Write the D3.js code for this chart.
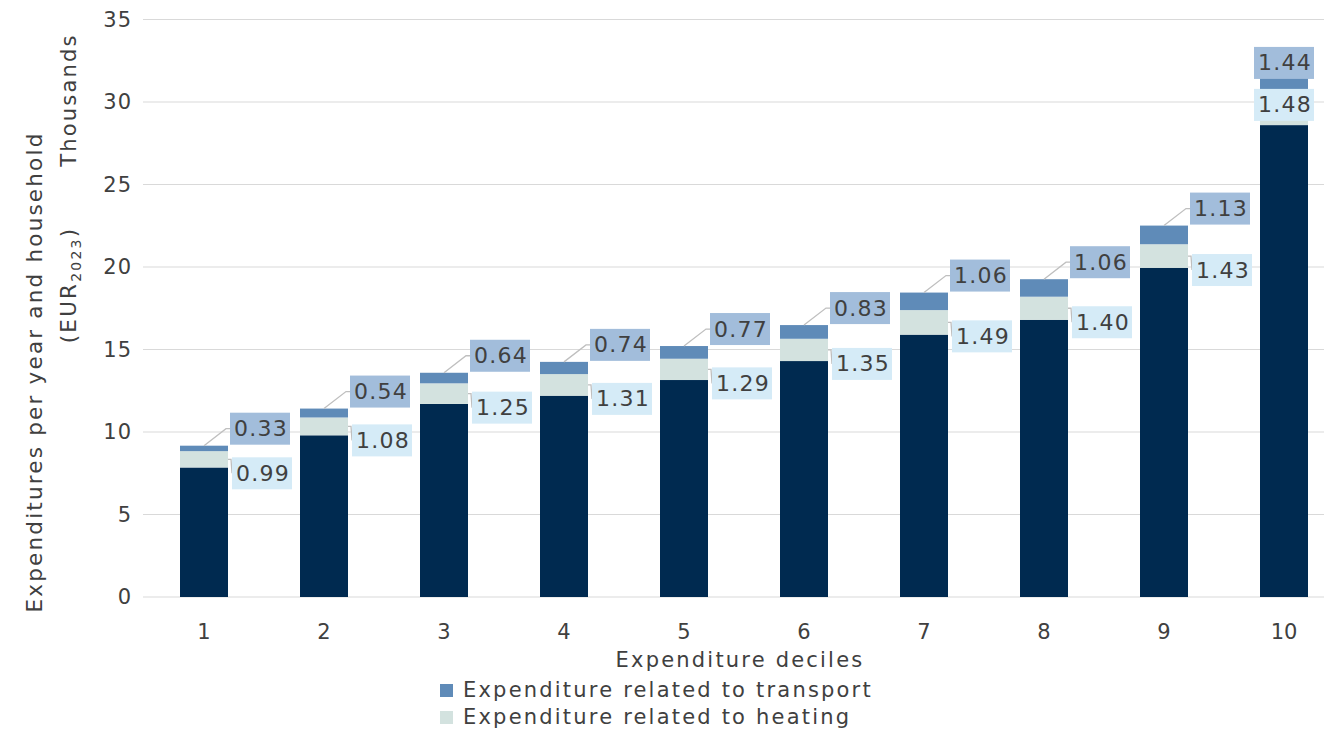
<!DOCTYPE html>
<html><head><meta charset="utf-8">
<script src="https://cdn.jsdelivr.net/npm/d3@7"></script>
<style>
body{margin:0;background:#fff;}
svg text{font-family:"DejaVu Sans",sans-serif;fill:#404040;}
</style></head>
<body><svg id="c" width="1324" height="732"></svg>
<script>
const deciles = ["1","2","3","4","5","6","7","8","9","10"];
const baseValues = [7.85, 9.8, 11.7, 12.2, 13.15, 14.3, 15.9, 16.8, 19.95, 28.6];
const heatingValues = [0.99, 1.08, 1.25, 1.31, 1.29, 1.35, 1.49, 1.40, 1.43, 1.48];
const transportValues = [0.33, 0.54, 0.64, 0.74, 0.77, 0.83, 1.06, 1.06, 1.13, 1.44];
const yTicks = [0, 5, 10, 15, 20, 25, 30, 35];
const legendItems = ["Expenditure related to transport", "Expenditure related to heating"];

const colors = {base:"#002a50", heating:"#d3e2df", transport:"#5f8bb8",
  transportBox:"#a2bddb", heatingBox:"#d5ebf7", grid:"#d9d9d9", leader:"#bfbfbf"};
const LS = "2.2px";

const svg = d3.select("#c");
const x = d3.scaleBand().domain(deciles).range([144, 1344]).paddingInner(0.6).paddingOuter(0.3);
const y = d3.scaleLinear().domain([0, 35]).range([597, 19.5]);

// grid
svg.append("g").selectAll("line").data(yTicks).join("line")
  .attr("x1", 143).attr("x2", 1324)
  .attr("y1", d => y(d)).attr("y2", d => y(d))
  .attr("stroke", colors.grid).attr("stroke-width", 1.2);

// y axis labels
const yAxis = svg.append("g").attr("transform", "translate(132,0)")
  .call(d3.axisLeft(y).tickValues(yTicks).tickSize(0).tickPadding(0));
yAxis.select(".domain").remove();
yAxis.selectAll("text").attr("font-size", 21).attr("fill", "#404040")
  .style("font-family", '"DejaVu Sans",sans-serif').style("letter-spacing", "1px");

// x axis labels
const xAxis = svg.append("g").attr("transform", "translate(0,620)")
  .call(d3.axisBottom(x).tickSize(0).tickPadding(0));
xAxis.select(".domain").remove();
xAxis.selectAll("text").attr("font-size", 21).attr("fill", "#404040").attr("dy", "0.9em")
  .style("font-family", '"DejaVu Sans",sans-serif');

// stacked data
const rows = deciles.map((d, i) => ({decile: d, base: baseValues[i], heating: heatingValues[i], transport: transportValues[i]}));
const keys = ["base", "heating", "transport"];
const stack = d3.stack().keys(keys)(rows);

svg.append("g").selectAll("g").data(stack).join("g")
  .attr("fill", s => colors[s.key])
  .selectAll("rect").data(s => s).join("rect")
  .attr("x", d => x(d.data.decile)).attr("width", x.bandwidth())
  .attr("y", d => y(d[1])).attr("height", d => y(d[0]) - y(d[1]));

// labels
const boxW = 60, boxH = 32;
const labG = svg.append("g");
rows.forEach((r, i) => {
  const bx = x(r.decile), bw = x.bandwidth();
  const last = i === rows.length - 1;
  const total = r.base + r.heating + r.transport;
  const heatMid = y(r.base + r.heating / 2);
  let tcx, tcy, hcx, hcy;
  if (last) {
    tcx = bx + bw / 2; tcy = y(total) - 14;
    hcx = bx + bw / 2; hcy = heatMid - 8;
  } else {
    tcx = bx + bw + 32; tcy = y(total) - 17;
    hcx = bx + bw + 34; hcy = heatMid + 14;
    labG.append("polyline")
      .attr("points", [[bx + bw / 2, y(total)], [tcx - boxW / 2 - 4, tcy], [tcx - boxW / 2, tcy]].join(" "))
      .attr("fill", "none").attr("stroke", colors.leader).attr("stroke-width", 1.3);
    labG.append("polyline")
      .attr("points", [[bx + bw, heatMid], [bx + bw + 3, heatMid], [hcx - boxW / 2, hcy]].join(" "))
      .attr("fill", "none").attr("stroke", colors.leader).attr("stroke-width", 1.3);
  }
  [[tcx, tcy, colors.transportBox, r.transport], [hcx, hcy, colors.heatingBox, r.heating]].forEach(([cx, cy, fill, v]) => {
    labG.append("rect").attr("x", cx - boxW / 2).attr("y", cy - boxH / 2)
      .attr("width", boxW).attr("height", boxH).attr("fill", fill);
    labG.append("text").attr("x", cx + 1).attr("y", cy).attr("text-anchor", "middle")
      .attr("dominant-baseline", "central").attr("font-size", 22).attr("fill", "#333")
      .style("letter-spacing", "1.3px")
      .text(d3.format(".2f")(v));
  });
});

// axis titles
svg.append("text").attr("transform", "translate(42,372) rotate(-90)")
  .attr("text-anchor", "middle").attr("font-size", 21.5).attr("fill", "#404040")
  .style("letter-spacing", LS)
  .text("Expenditures per year and household");
const eur = svg.append("text").attr("transform", "translate(76,285) rotate(-90)")
  .attr("text-anchor", "middle").attr("font-size", 21.5).attr("fill", "#404040")
  .style("letter-spacing", LS);
eur.append("tspan").text("(EUR");
eur.append("tspan").attr("font-size", 14).attr("dy", 5).text("2023");
eur.append("tspan").attr("dy", -5).text(")");
svg.append("text").attr("transform", "translate(76,100) rotate(-90)")
  .attr("text-anchor", "middle").attr("font-size", 21).attr("fill", "#404040")
  .style("letter-spacing", LS)
  .text("Thousands");

svg.append("text").attr("x", 740).attr("y", 667).attr("text-anchor", "middle")
  .attr("font-size", 21).attr("fill", "#404040").style("letter-spacing", LS)
  .text("Expenditure deciles");

// legend
const legColors = [colors.transport, colors.heating];
const lg = svg.append("g");
legendItems.forEach((t, i) => {
  const ly = 690 + i * 27;
  lg.append("rect").attr("x", 440).attr("y", ly - 6).attr("width", 13).attr("height", 13).attr("fill", legColors[i]);
  lg.append("text").attr("x", 463).attr("y", ly).attr("dominant-baseline", "central")
    .attr("font-size", 21).attr("fill", "#404040").style("letter-spacing", LS).text(t);
});
</script></body></html>
